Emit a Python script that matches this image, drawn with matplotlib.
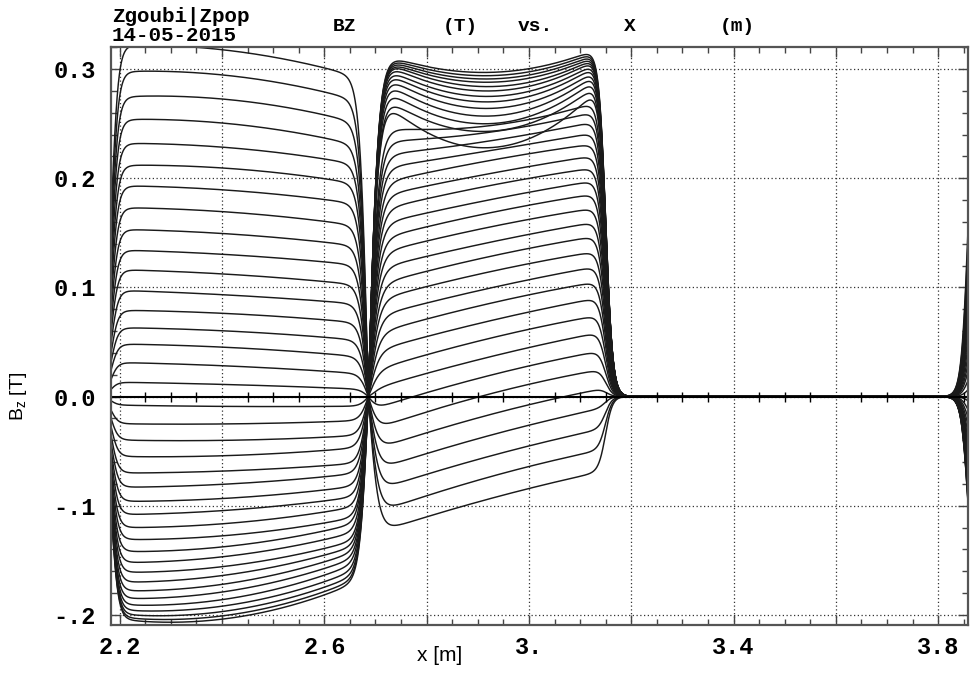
import numpy as np
import matplotlib.pyplot as plt
from matplotlib.ticker import FixedLocator, FixedFormatter, MultipleLocator

plt.rcParams['font.family'] = ['Liberation Mono', 'DejaVu Sans']
plt.rcParams['font.weight'] = 'bold'

# Bz levels of each orbit (T), top to bottom
# first dipole, read at x = 2.22 / 2.415 / 2.61 m
a_x = [2.22, 2.415, 2.61]
a_in = [0.322, 0.298, 0.275, 0.254, 0.232, 0.212, 0.193, 0.173, 0.153, 0.134,
        0.116, 0.097, 0.079, 0.063, 0.048, 0.031, 0.013,
        -0.008, -0.025, -0.040, -0.055, -0.070, -0.083, -0.096, -0.108, -0.120,
        -0.131, -0.142, -0.152, -0.161, -0.170, -0.178, -0.185, -0.191, -0.196,
        -0.200, -0.203, -0.205]
a_mid = [0.317, 0.294, 0.272, 0.250, 0.228, 0.209, 0.189, 0.169, 0.149, 0.130,
         0.112, 0.093, 0.076, 0.060, 0.045, 0.028, 0.011,
         -0.009, -0.025, -0.040, -0.054, -0.068, -0.080, -0.093, -0.104, -0.116,
         -0.127, -0.137, -0.146, -0.155, -0.163, -0.171, -0.178, -0.185, -0.191,
         -0.196, -0.200, -0.203]
a_out = [0.300, 0.278, 0.257, 0.236, 0.217, 0.199, 0.180, 0.160, 0.141, 0.123,
         0.105, 0.087, 0.070, 0.054, 0.039, 0.023, 0.008,
         -0.009, -0.023, -0.037, -0.049, -0.063, -0.073, -0.085, -0.095, -0.105,
         -0.115, -0.122, -0.130, -0.138, -0.144, -0.150, -0.156, -0.162, -0.168,
         -0.173, -0.177, -0.180]

# second dipole, read at x = 2.76 / 2.92 / 3.12 m
b_x = [2.76, 2.92, 3.12]
b_in = [0.307, 0.305, 0.303, 0.301, 0.299, 0.296, 0.292, 0.288, 0.283, 0.277,
        0.270, 0.262, 0.254, 0.245, 0.235, 0.224, 0.213, 0.201, 0.189, 0.177,
        0.164, 0.151, 0.138, 0.124, 0.110, 0.096, 0.081, 0.066, 0.050, 0.033,
        0.016, -0.002, -0.020, -0.039, -0.058, -0.077, -0.097, -0.116]
b_mid = [0.297, 0.294, 0.291, 0.288, 0.284, 0.280, 0.275, 0.270, 0.264, 0.257,
         0.250, 0.243, 0.228, 0.248, 0.242, 0.234, 0.225, 0.216, 0.204, 0.193,
         0.180, 0.168, 0.155, 0.141, 0.128, 0.114, 0.099, 0.085, 0.069, 0.053,
         0.036, 0.019, 0.002, -0.017, -0.036, -0.055, -0.074, -0.094]
b_out = [0.316, 0.314, 0.312, 0.310, 0.308, 0.306, 0.303, 0.300, 0.296, 0.292,
         0.287, 0.281, 0.275, 0.268, 0.260, 0.251, 0.241, 0.231, 0.220, 0.209,
         0.197, 0.185, 0.172, 0.159, 0.146, 0.132, 0.118, 0.104, 0.089, 0.073,
         0.057, 0.040, 0.023, 0.005, -0.013, -0.032, -0.051, -0.071]

x_ticks = [2.2, 2.4, 2.6, 2.8, 3.0, 3.2, 3.4, 3.6, 3.8]
x_labels = ['2.2', '', '2.6', '', '3.', '', '3.4', '', '3.8']
y_ticks = [-0.2, -0.1, 0.0, 0.1, 0.2, 0.3]
y_labels = ['-.2', '-.1', '0.0', '0.1', '0.2', '0.3']

# field boundaries (m)
x_in1 = 2.183    # entrance of first dipole
x_join = 2.686   # first -> second dipole
x_out2 = 3.150   # exit of second dipole
x_in3 = 3.859    # entrance of next cell
lam = 0.0068     # fringe fall-off length
w1 = 0.016
w2 = 0.020

xs = np.linspace(2.15, 3.9, 4000)


def sigm(u):
    return 1.0 / (1.0 + np.exp(-u / lam))


up1 = sigm(xs - x_in1)
down1 = np.clip(np.tanh((x_join - xs) / w1), 0, None)
up2 = np.clip(np.tanh((xs - x_join) / w2), 0, None)
down2 = sigm(x_out2 - xs)
up3 = sigm(xs - x_in3)

fig = plt.figure(figsize=(9.73, 6.74), dpi=100)
ax = fig.add_axes([0.1141, 0.0731, 0.8811, 0.8567])

for i in range(len(a_in)):
    p = np.polyval(np.polyfit(a_x, [a_in[i], a_mid[i], a_out[i]], 2), xs)
    q = np.polyval(np.polyfit(b_x, [b_in[i], b_mid[i], b_out[i]], 2), xs)
    bz = p * up1 * down1 + q * up2 * down2 + a_in[i] * up3
    ax.plot(xs, bz, color='#1a1a1a', lw=1.05)

ax.set_xlim(2.183, 3.859)
ax.set_ylim(-0.209, 0.320)

ax.xaxis.set_major_locator(FixedLocator(x_ticks))
ax.xaxis.set_major_formatter(FixedFormatter(x_labels))
ax.xaxis.set_minor_locator(MultipleLocator(0.05))
ax.yaxis.set_major_locator(FixedLocator(y_ticks))
ax.yaxis.set_major_formatter(FixedFormatter(y_labels))
ax.yaxis.set_minor_locator(MultipleLocator(0.02))

ax.tick_params(which='both', direction='in', top=True, right=True,
               width=1.0, color='#444444')
ax.tick_params(which='major', length=7, labelsize=17, pad=8)
ax.tick_params(which='minor', length=4)
ax.tick_params(axis='y', pad=11)

ax.grid(which='major', color='#333333', lw=0.9, ls=(0, (1, 2)))
for s in ax.spines.values():
    s.set_linewidth(1.6)
    s.set_color('#555555')

# zero line with its own ticks
ax.axhline(0, color='k', lw=1.5)
tx = [t for t in ax.xaxis.get_minorticklocs() if 2.183 < t < 3.859]
ax.plot(tx, np.zeros(len(tx)), ls='none', marker='|', ms=7, mew=1.0,
        color='k')

fig.text(0.115, 0.976, 'Zgoubi|Zpop', fontsize=15, va='center', ha='left')
fig.text(0.115, 0.947, '14-05-2015', fontsize=15, va='center', ha='left')
for lbl, xp in [('BZ', 344), ('(T)', 460), ('vs.', 535), ('X', 630),
                ('(m)', 737)]:
    fig.text(xp / 973, 0.96, lbl, fontsize=14, ha='center', va='center')

fig.text(0.0185, 0.4125, r'B$_\mathregular{z}$ [T]', rotation=90,
         fontsize=14, fontweight='normal', family='Liberation Sans',
         ha='center', va='center')
fig.text(0.452, 0.027, 'x [m]', fontsize=15, fontweight='normal',
         family=['Liberation Sans Narrow', 'Liberation Sans'],
         ha='center', va='center')

fig.savefig('out.png', dpi=100)
